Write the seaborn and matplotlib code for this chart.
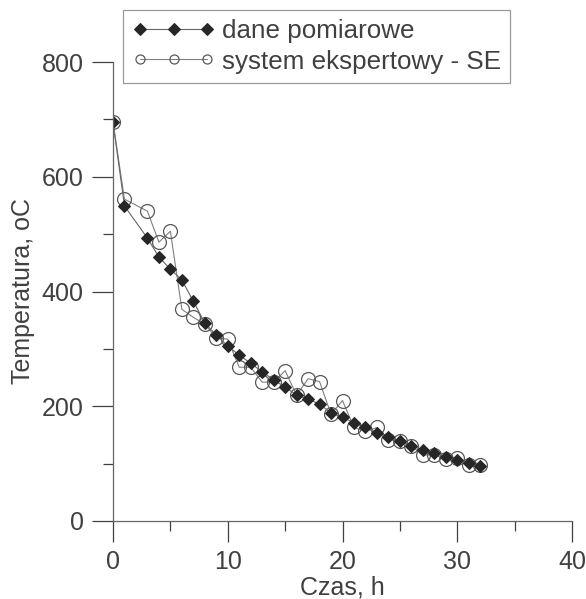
import numpy as np
import pandas as pd
import seaborn as sns
import matplotlib.pyplot as plt
from matplotlib.ticker import MultipleLocator

COLOR = "0.25"

# hours of cooling (no reading at h = 2)
hours = [0, 1, 3, 4, 5, 6, 7, 8, 9, 10, 11, 12, 13, 14, 15, 16, 17,
         18, 19, 20, 21, 22, 23, 24, 25, 26, 27, 28, 29, 30, 31, 32]
measured = [695, 549, 493, 460, 439, 420, 383, 345, 324, 305, 289, 275, 260,
            246, 233, 220, 212, 204, 188, 181, 171, 163, 154, 146, 139, 131,
            124, 118, 112, 106, 101, 96]
expert = [695, 561, 540, 486, 505, 369, 355, 343, 319, 317, 268, 268, 242,
          242, 262, 219, 248, 243, 186, 210, 163, 156, 163, 141, 140, 131,
          115, 115, 108, 109, 97, 98]
labels = ["dane pomiarowe", "system ekspertowy - SE"]

sns.set_style("ticks")
plt.rcParams["font.family"] = ["Liberation Sans", "DejaVu Sans"]
plt.rcParams["text.color"] = COLOR
plt.rcParams["axes.labelcolor"] = COLOR
plt.rcParams["xtick.color"] = COLOR
plt.rcParams["ytick.color"] = COLOR

df_meas = pd.DataFrame({"h": hours, "T": measured})
df_se = pd.DataFrame({"h": hours, "T": expert})

fig = plt.figure(figsize=(5.86, 5.99), dpi=100)
ax = fig.add_axes([113 / 586, 78 / 599, 459 / 586, 459 / 599])

sns.lineplot(data=df_se, x="h", y="T", ax=ax, color="0.5", lw=0.8,
             marker="o", markersize=10, markerfacecolor="none",
             markeredgecolor="0.35", markeredgewidth=0.9, label=labels[1])
sns.lineplot(data=df_meas, x="h", y="T", ax=ax, color="0.4", lw=0.8,
             marker="D", markersize=6.5, markerfacecolor="0.15",
             markeredgecolor="0.15", label=labels[0])

ax.set_xlim(0, 40)
ax.set_ylim(0, 800)
ax.xaxis.set_major_locator(MultipleLocator(10))
ax.xaxis.set_minor_locator(MultipleLocator(5))
ax.yaxis.set_major_locator(MultipleLocator(200))
ax.yaxis.set_minor_locator(MultipleLocator(100))
ax.tick_params(which="major", length=15, width=0.9, labelsize=18, pad=6,
               direction="out")
ax.tick_params(which="minor", length=7, width=0.9, direction="out")
for side in ["top", "right"]:
    ax.spines[side].set_visible(False)
for side in ["left", "bottom"]:
    ax.spines[side].set_color("0.4")
    ax.spines[side].set_linewidth(0.9)
ax.set_xlabel("Czas, h", fontsize=18, labelpad=1)
ax.set_ylabel("Temperatura, oC", fontsize=18, labelpad=5)

handles, lbls = ax.get_legend_handles_labels()
ax.get_legend().remove()
order = [lbls.index(x) for x in labels]
leg = fig.legend([handles[i] for i in order], labels, loc="upper left",
                 bbox_to_anchor=(123 / 586, 1 - 10 / 599), borderaxespad=0,
                 numpoints=3, handlelength=3.2, fontsize=18.7, fancybox=False,
                 frameon=True, borderpad=0.35, handletextpad=0.25,
                 labelspacing=0.25)
leg.get_frame().set_edgecolor("0.5")
leg.get_frame().set_linewidth(0.9)
for hnd in leg.legend_handles:
    hnd.set_markersize(6.5)

fig.savefig("out.png", dpi=100)
